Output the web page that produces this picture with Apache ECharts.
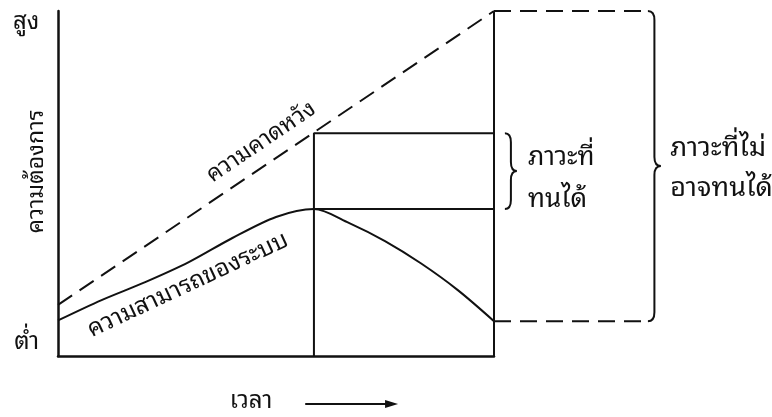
<!DOCTYPE html>
<html>
<head>
<meta charset="utf-8">
<script src="https://cdn.jsdelivr.net/npm/echarts@6/dist/echarts.min.js"></script>
<style>
  html, body { margin: 0; padding: 0; background: #fff; }
  #chart { width: 772px; height: 417px; }
</style>
</head>
<body>
<div id="chart"></div>
<script>
// time runs 0..100 up to the end of the picture, level runs 0 (ต่ำ) .. 100 (สูง)
const capTime = [0, 10, 20, 30, 40, 50, 58.7, 66.7, 75, 83.3, 91.7, 100];
const capacity = [10.3, 16.2, 21.4, 27.2, 34.2, 40.3, 42.6, 38.6, 33.3, 26.8, 19.1, 10.1];
const expTime = [0, 100];
const expectation = [14.8, 100];
const peakTime = 58.7;
const expAtPeak = 64.6;
const smallBraceTime = 102.5;
const bigBraceTime = 135.3;

const font = '"Noto Sans Thai Looped", Loma, Garuda, Norasi, "Noto Sans Thai", sans-serif';
const ink = '#111';

const endTime = capTime[capTime.length - 1];
const capPeak = capacity[capTime.indexOf(peakTime)];
const capEnd = capacity[capacity.length - 1];
const expEnd = expectation[expectation.length - 1];

// text notes, placed in data units
const notes = [
  { text: 'สูง', x: -7.3, y: 96.6, size: 24 },
  { text: 'ต่ำ', x: -7.2, y: 4.0, size: 24 },
  { text: 'ความคาดหวัง', x: 46.6, y: 62.0, size: 23, along: true },
  { text: 'ความสามารถของระบบ', x: 29.8, y: 20.6, size: 24, rot: 25 },
  { text: 'ภาวะที่', x: 107.8, y: 57.4, size: 26, left: true },
  { text: 'ทนได้', x: 107.8, y: 45.2, size: 26, left: true },
  { text: 'ภาวะที่ไม่', x: 140.4, y: 60.3, size: 27, left: true },
  { text: 'อาจทนได้', x: 140.4, y: 48.7, size: 27, left: true }
];

const chart = echarts.init(document.getElementById('chart'));

function seg(name, pts, dashed) {
  return {
    name: name, type: 'line', data: pts, symbol: 'none', clip: false, silent: true,
    lineStyle: { color: ink, width: 2, type: dashed ? [17, 9] : 'solid' }
  };
}

function bracePath(x, top, bottom, w) {
  const h = w / 2, m = (top + bottom) / 2, r = Math.min(9, (bottom - top) / 5);
  return 'M' + x + ',' + top +
    ' Q' + (x + h) + ',' + top + ' ' + (x + h) + ',' + (top + r) +
    ' L' + (x + h) + ',' + (m - r) +
    ' Q' + (x + h) + ',' + m + ' ' + (x + w) + ',' + m +
    ' Q' + (x + h) + ',' + m + ' ' + (x + h) + ',' + (m + r) +
    ' L' + (x + h) + ',' + (bottom - r) +
    ' Q' + (x + h) + ',' + bottom + ' ' + x + ',' + bottom;
}

const option = {
  animation: false,
  grid: { left: 58, right: 278, top: 11, bottom: 61, outerBoundsMode: 'none' },
  xAxis: {
    type: 'value', min: 0, max: 100,
    axisLine: { show: true, onZero: false, lineStyle: { color: ink, width: 2.5 } },
    axisTick: { show: false }, axisLabel: { show: false }, splitLine: { show: false },
    name: 'เวลา', nameLocation: 'middle', nameGap: 33,
    nameTextStyle: { color: ink, fontSize: 24, fontFamily: font, padding: [0, 50, 0, 0] }
  },
  yAxis: {
    type: 'value', min: 0, max: 100,
    axisLine: { show: true, onZero: false, lineStyle: { color: ink, width: 2.5 } },
    axisTick: { show: false }, axisLabel: { show: false }, splitLine: { show: false },
    name: 'ความต้องการ', nameLocation: 'middle', nameRotate: 90, nameGap: 10,
    nameTextStyle: { color: ink, fontSize: 23, fontFamily: font, padding: [0, 0, 0, 24] }
  },
  series: [
    seg('ความคาดหวัง', expTime.map((t, i) => [t, expectation[i]]), true),
    Object.assign(seg('ความสามารถของระบบ', capTime.map((t, i) => [t, capacity[i]]), false),
      { smooth: 0.3 }),
    seg('peak', [[peakTime, 0], [peakTime, expAtPeak], [endTime, expAtPeak]], false),
    seg('peakCap', [[peakTime, capPeak], [endTime, capPeak]], false),
    seg('end', [[endTime, 0], [endTime, expEnd]], false),
    {
      // braces, the wide one with dashed leaders from the end line
      type: 'custom', silent: true, clip: false,
      data: [[smallBraceTime, expAtPeak, capPeak, 12, 0], [bigBraceTime, expEnd, capEnd, 13, 1]],
      renderItem: function (params, api) {
        const a = api.coord([api.value(0), api.value(1)]);
        const b = api.coord([api.value(0), api.value(2)]);
        const children = [{
          type: 'path',
          shape: { pathData: bracePath(a[0], a[1], b[1], api.value(3)) },
          style: { stroke: ink, lineWidth: 2, fill: null }
        }];
        if (api.value(4)) {
          const s = api.coord([endTime, api.value(1)]);
          const e = api.coord([endTime, api.value(2)]);
          [[s, a], [e, b]].forEach(function (pair) {
            children.push({
              type: 'line',
              shape: { x1: pair[0][0], y1: pair[0][1], x2: pair[1][0], y2: pair[1][1] },
              style: { stroke: ink, lineWidth: 2, lineDash: [17, 9] }
            });
          });
        }
        return { type: 'group', children: children };
      }
    },
    {
      // arrow beside the time label
      type: 'custom', silent: true, clip: false,
      data: [[56.7, 78.0, -13.9]],
      renderItem: function (params, api) {
        const a = api.coord([api.value(0), api.value(2)]);
        const b = api.coord([api.value(1), api.value(2)]);
        return {
          type: 'group',
          children: [
            { type: 'line', shape: { x1: a[0], y1: a[1], x2: b[0] - 8, y2: b[1] }, style: { stroke: ink, lineWidth: 2 } },
            { type: 'polygon', shape: { points: [[b[0], b[1]], [b[0] - 13, b[1] - 4], [b[0] - 13, b[1] + 4]] }, style: { fill: ink } }
          ]
        };
      }
    },
    {
      type: 'custom', silent: true, clip: false,
      data: notes.map(n => [n.x, n.y]),
      renderItem: function (params, api) {
        const n = notes[params.dataIndex];
        const p = api.coord([api.value(0), api.value(1)]);
        let rot = (n.rot || 0) * Math.PI / 180;
        if (n.along) {
          const s = api.coord([expTime[0], expectation[0]]);
          const e = api.coord([expTime[1], expectation[1]]);
          rot = Math.atan2(s[1] - e[1], e[0] - s[0]);
        }
        return {
          type: 'text', x: p[0], y: p[1], rotation: rot,
          style: {
            text: n.text, fill: ink, fontSize: n.size, fontFamily: font,
            align: n.left ? 'left' : 'center', verticalAlign: 'middle'
          }
        };
      }
    }
  ]
};

chart.setOption(option);
</script>
</body>
</html>
